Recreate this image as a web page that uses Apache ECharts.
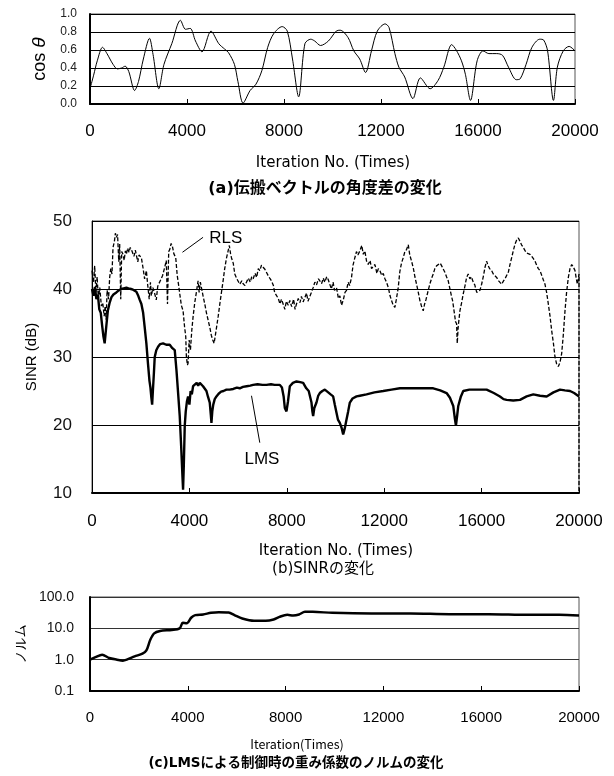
<!DOCTYPE html>
<html><head><meta charset="utf-8">
<script src="https://cdn.jsdelivr.net/npm/echarts@6/dist/echarts.min.js"></script>
<style>html,body{margin:0;padding:0;background:#fff}#c{width:614px;height:776px}</style>
</head><body><div id="c"></div>
<script>
// (a) cos theta
const cosIter = [0,150,300,517,700,952,1130,1300,1450,1600,1840,2000,2200,2453,2600,2840,3050,3373,3729,3939,4132,4350,4617,4988,5311,5553,5714,5956,6100,6312,6602,6844,7086,7328,7570,7925,8135,8350,8604,8862,9104,9266,9508,9831,10153,10315,10638,10880,11122,11364,11606,11848,12171,12332,12574,12736,12978,13317,13624,14027,14350,14592,14915,15100,15318,15480,15690,15964,16206,16449,16772,17014,17256,17579,17740,17982,18224,18547,18709,18870,19112,19273,19515,19758,20000];
const cosVal = [0.17,0.32,0.48,0.63,0.56,0.44,0.39,0.40,0.42,0.36,0.15,0.25,0.50,0.73,0.55,0.17,0.44,0.67,0.93,0.83,0.84,0.70,0.58,0.81,0.67,0.61,0.57,0.44,0.25,0.01,0.15,0.22,0.37,0.63,0.78,0.86,0.81,0.50,0.08,0.67,0.72,0.70,0.65,0.70,0.81,0.82,0.74,0.59,0.50,0.35,0.59,0.81,0.89,0.85,0.56,0.41,0.30,0.06,0.29,0.17,0.26,0.41,0.66,0.60,0.48,0.33,0.04,0.48,0.59,0.56,0.56,0.54,0.41,0.27,0.28,0.44,0.63,0.72,0.71,0.59,0.04,0.41,0.59,0.64,0.59];

// (b) SINR - RLS
const rlsIter = [0,60,110,160,210,260,320,384,440,500,540,580,620,680,726,770,820,863,920,960,1000,1050,1100,1137,1180,1220,1274,1320,1370,1411,1460,1520,1570,1617,1680,1722,1780,1822,1880,1930,2028,2100,2160,2233,2290,2350,2400,2439,2500,2576,2640,2700,2781,2840,2900,2987,3050,3100,3150,3192,3250,3302,3360,3439,3500,3560,3603,3670,3740,3800,3850,3877,3920,3946,3990,4042,4100,4151,4220,4290,4357,4400,4450,4494,4560,4631,4700,4770,4836,4900,4960,5014,5100,5179,5250,5320,5384,5450,5520,5590,5640,5690,5727,5800,5864,5950,6069,6150,6200,6280,6343,6420,6500,6560,6617,6700,6760,6830,6891,6960,7028,7100,7165,7230,7300,7371,7450,7500,7576,7650,7720,7780,7850,7920,7980,8060,8124,8200,8280,8340,8398,8470,8540,8600,8672,8740,8810,8870,8946,9000,9082,9150,9220,9300,9356,9430,9500,9560,9640,9700,9767,9830,9900,9960,10041,10120,10180,10247,10320,10390,10452,10520,10580,10658,10720,10795,10860,10920,11000,11080,11140,11206,11280,11343,11420,11480,11548,11620,11700,11760,11822,11900,11960,12030,12096,12170,12240,12302,12370,12439,12500,12576,12640,12710,12781,12850,12918,12990,13050,13124,13200,13260,13329,13400,13466,13530,13603,13660,13720,13808,13880,13950,14014,14080,14150,14220,14300,14360,14425,14500,14560,14630,14700,14760,14808,14880,14930,14973,15000,15040,15110,15180,15247,15320,15384,15450,15520,15580,15658,15720,15800,15864,15930,16001,16080,16140,16206,16260,16330,16412,16480,16550,16617,16700,16760,16823,16900,16960,17028,17100,17160,17234,17300,17371,17440,17508,17580,17640,17713,17790,17850,17920,17987,18060,18120,18192,18260,18330,18398,18470,18540,18603,18670,18740,18810,18877,18950,19014,19080,19151,19220,19288,19350,19425,19490,19562,19630,19699,19760,19836,19890,19932,19970,20000,20000];
const rlsVal = [42.7,41.0,43.4,39.5,41.8,38.6,40.2,37.5,38.0,36.0,37.5,35.5,39.8,38.5,41.7,43.0,42.2,46.1,47.0,48.2,47.6,48.0,44.0,46.6,38.5,45.5,45.1,44.2,45.6,45.1,46.0,45.4,46.1,45.8,45.9,44.8,45.7,45.6,44.0,45.0,44.6,43.0,41.5,42.7,40.5,38.5,41.0,39.0,40.2,39.3,38.4,40.4,40.2,41.5,42.0,43.2,44.2,37.8,45.5,45.8,46.7,46.3,45.2,44.6,42.0,40.5,39.3,37.6,36.8,34.5,33.0,30.0,28.8,29.1,32.5,31.0,34.0,35.9,38.0,39.6,41.2,39.5,41.0,40.2,39.0,37.8,36.5,35.4,34.4,33.2,32.5,32.0,34.0,35.9,37.8,39.6,41.2,43.0,44.5,45.6,46.4,45.2,44.6,43.8,42.2,41.5,40.7,41.2,40.8,40.5,41.0,41.6,41.0,41.8,41.5,42.3,41.7,43.0,42.7,43.5,43.2,42.9,42.7,42.0,41.6,41.2,40.5,39.5,39.3,38.6,37.8,38.5,37.8,37.0,38.2,37.6,38.3,37.4,38.5,37.0,37.8,38.6,38.0,38.9,38.1,38.0,39.4,38.2,38.3,39.4,40.2,41.0,40.6,41.5,41.2,40.8,41.6,41.0,41.8,41.4,41.2,40.0,41.0,39.8,40.2,38.6,39.0,37.6,38.4,39.5,39.8,41.0,40.5,41.7,43.5,44.6,45.5,45.0,45.6,46.4,45.1,45.6,44.0,43.6,44.2,43.0,43.2,43.6,42.3,43.0,42.7,42.0,42.3,41.5,41.0,40.2,39.0,38.3,37.6,37.3,38.5,40.2,42.5,43.8,44.6,45.5,45.8,46.5,45.0,44.1,43.0,41.8,40.7,39.5,38.3,37.5,36.8,37.8,38.5,39.8,40.8,41.6,42.2,43.0,43.4,43.6,43.8,43.4,43.2,42.4,41.8,41.2,40.0,39.0,38.3,36.5,35.2,34.9,32.0,34.5,36.8,38.0,39.3,40.5,41.7,42.2,41.5,41.8,41.0,40.6,39.5,39.3,39.8,40.7,42.0,43.2,44.1,43.5,43.0,42.7,42.2,42.0,41.7,41.2,41.0,40.7,41.2,41.5,41.7,42.5,43.5,44.6,45.6,46.6,47.2,47.5,47.0,46.5,46.1,45.6,45.3,45.4,45.1,44.8,44.5,44.1,43.5,43.0,42.7,42.0,41.3,40.7,39.5,37.8,36.0,33.9,32.0,30.0,29.0,28.6,29.2,30.5,33.0,36.8,39.5,41.7,43.0,43.6,43.3,42.7,41.5,40.7,41.5,42.2,10];

// (b) SINR - LMS
const lmsIter = [0,60,120,180,240,300,360,420,470,520,560,600,650,726,800,880,1000,1100,1200,1300,1411,1500,1600,1685,1760,1822,1900,1960,2028,2100,2160,2233,2300,2360,2400,2439,2470,2500,2540,2576,2640,2713,2800,2918,3050,3192,3300,3398,3470,3540,3603,3660,3713,3740,3770,3809,3850,3900,3946,4000,4050,4100,4151,4220,4300,4360,4425,4500,4560,4631,4700,4760,4836,4880,4905,4940,4980,5040,5110,5200,5300,5400,5521,5650,5800,5950,6069,6200,6350,6500,6617,6800,7000,7165,7350,7500,7713,7800,7870,7919,7987,8050,8124,8250,8398,8550,8672,8800,8900,9014,9050,9082,9130,9219,9290,9356,9460,9562,9700,9800,9904,9970,10041,10100,10178,10250,10315,10380,10452,10520,10589,10700,10863,11000,11274,11600,11959,12300,12644,13000,13329,13700,14014,14300,14562,14700,14836,14900,14946,15000,15042,15150,15247,15500,15795,16000,16206,16500,16754,16900,17028,17300,17576,17850,18124,18400,18672,18950,19220,19420,19631,19800,20000];
const lmsVal = [40.0,39.0,40.3,38.5,39.2,37.0,36.5,34.5,33.0,32.0,33.5,35.0,36.8,38.0,38.8,39.2,39.5,39.8,40.0,40.1,40.2,40.1,40.0,39.9,39.8,39.6,39.0,38.4,37.8,36.5,34.5,32.0,29.0,26.5,25.5,24.0,23.0,25.0,27.5,30.0,31.0,31.5,31.9,32.0,31.8,31.8,31.3,31.0,28.0,24.5,21.3,17.0,12.6,10.5,14.0,19.9,22.0,23.5,24.2,23.0,25.0,24.5,25.7,25.5,26.2,25.8,26.2,26.0,25.7,25.7,25.0,24.2,23.3,21.5,20.3,22.0,23.0,23.8,24.2,24.6,24.9,25.0,25.2,25.2,25.3,25.5,25.4,25.6,25.7,25.8,25.9,26.0,25.9,25.9,26.0,25.9,25.9,25.5,24.2,22.5,22.0,23.5,25.7,26.2,26.4,26.3,26.2,25.4,25.0,23.3,22.0,21.3,22.5,23.3,24.3,24.7,25.0,25.2,24.8,24.5,24.2,23.0,21.8,20.8,20.3,19.6,18.6,19.5,20.8,22.0,23.3,23.9,24.2,24.3,24.5,24.8,25.0,25.2,25.4,25.4,25.4,25.4,25.4,25.1,24.7,24.0,22.8,21.0,19.9,21.5,22.8,24.2,25.0,25.2,25.2,25.2,25.2,24.7,24.2,23.8,23.7,23.6,23.7,24.2,24.5,24.3,24.2,24.8,25.2,25.1,25.0,24.7,24.2];

// (c) norm
const normIter = [0,224,496,785,1105,1345,1505,1825,2146,2306,2466,2626,2866,3346,3667,3795,3955,4147,4307,4627,4948,5268,5668,5908,6228,6709,7189,7509,7750,8070,8310,8550,8790,9111,9911,11511,13112,14712,16313,17914,19194,20000];
const normVal = [1.0,1.2,1.44,1.13,1.0,0.93,1.0,1.27,1.55,1.97,4.3,6.9,8.2,8.9,10,15,14.4,22.2,26.4,27.7,31.2,32.8,32,26.4,20.6,17.4,17.4,19.2,23.3,27,25.7,27.7,33.6,33.6,31.2,29.8,29.8,28.4,28.4,27,27,25.7];

const xTicks = [0,4000,8000,12000,16000,20000];

const zip = (a,b)=>a.map((v,i)=>[v,b[i]]);
const FONT = '"Liberation Sans", Arial, sans-serif';
const JP = '"Noto Sans CJK JP", sans-serif';
const MIX = '"DejaVu Sans", "Noto Sans CJK JP", sans-serif';

function xAx(gi, fs, margin){
  return {gridIndex:gi,type:'value',min:xTicks[0],max:xTicks[xTicks.length-1],interval:xTicks[1]-xTicks[0],
    axisLine:{lineStyle:{color:'#000',width:2}},
    axisTick:{inside:true,length:5,lineStyle:{color:'#000'}},
    axisLabel:{fontSize:fs,color:'#000',fontFamily:FONT,margin:margin,formatter:v=>String(v)},
    splitLine:{show:false}};
}

const chart = echarts.init(document.getElementById('c'));
chart.setOption({
  animation:false,
  backgroundColor:'#fff',
  grid:[
    {left:90,right:39,top:14,height:90,show:true,borderColor:'#555',borderWidth:1},
    {left:92,right:35,top:221,height:272,show:true,borderColor:'#555',borderWidth:1},
    {left:90,right:35,top:597,height:94,show:true,borderColor:'#555',borderWidth:1}
  ],
  xAxis:[xAx(0,17,19), xAx(1,17,20), xAx(2,15,19)],
  yAxis:[
    {gridIndex:0,type:'value',min:0,max:1,interval:0.2,
      axisLine:{show:true,lineStyle:{color:'#000',width:2}},axisTick:{show:false},
      axisLabel:{fontSize:12,color:'#222',fontFamily:FONT,margin:13,formatter:v=>v.toFixed(1)},
      splitLine:{lineStyle:{color:'#000',width:1}}},
    {gridIndex:1,type:'value',min:10,max:50,interval:10,
      axisLine:{show:true,lineStyle:{color:'#000',width:1}},axisTick:{show:false},
      axisLabel:{fontSize:17,color:'#111',fontFamily:FONT,margin:20},
      splitLine:{lineStyle:{color:'#000',width:1}}},
    {gridIndex:2,type:'log',logBase:10,min:0.1,max:100,
      axisLine:{show:true,lineStyle:{color:'#000',width:2}},axisTick:{show:false},
      axisLabel:{fontSize:14,color:'#111',fontFamily:FONT,margin:16,formatter:v=>Number(v).toFixed(1)},
      splitLine:{lineStyle:{color:'#333',width:1}}}
  ],
  series:[
    {type:'line',xAxisIndex:0,yAxisIndex:0,data:zip(cosIter,cosVal),showSymbol:false,smooth:0.3,
      lineStyle:{color:'#000',width:1}},
    {type:'line',xAxisIndex:1,yAxisIndex:1,data:zip(rlsIter,rlsVal),showSymbol:false,
      lineStyle:{color:'#000',width:1.3,type:[4,2]},
      markLine:{silent:true,symbol:'none',label:{show:false},lineStyle:{color:'#000',width:1,type:'solid'},
        data:[[{coord:[3715,45.4]},{coord:[4561,47.6]}],[{coord:[6550,24.3]},{coord:[6891,17.4]}]]},
      markPoint:{silent:true,symbolSize:0,
        data:[{coord:[5494,47.5],label:{show:true,formatter:'RLS',position:'inside',fontSize:17,color:'#000',fontFamily:FONT}},
              {coord:[6980,14.9],label:{show:true,formatter:'LMS',position:'inside',fontSize:17,color:'#000',fontFamily:FONT}}]}},
    {type:'line',xAxisIndex:1,yAxisIndex:1,data:zip(lmsIter,lmsVal),showSymbol:false,
      lineStyle:{color:'#000',width:2.4}},
    {type:'line',xAxisIndex:2,yAxisIndex:2,data:zip(normIter,normVal),showSymbol:false,smooth:0.3,
      lineStyle:{color:'#000',width:2.5}}
  ],
  graphic:[
    {type:'text',x:40,y:59,rotation:Math.PI/2,style:{text:'{a|cos }{b|θ}',textAlign:'center',textVerticalAlign:'middle',
      rich:{a:{font:'18px '+FONT,fill:'#000'},b:{font:'italic 19px '+FONT,fill:'#000'}}}},
    {type:'text',x:32,y:357,rotation:Math.PI/2,style:{text:'SINR (dB)',font:'15px '+FONT,fill:'#000',textAlign:'center',textVerticalAlign:'middle'}},
    {type:'text',x:20,y:644,rotation:Math.PI/2,style:{text:'ノルム',font:'13px '+JP,fill:'#000',textAlign:'center',textVerticalAlign:'middle'}},
    {type:'text',x:333,y:163,style:{text:'Iteration No. (Times)',font:'15px '+MIX,fill:'#000',textAlign:'center',textVerticalAlign:'middle'}},
    {type:'text',x:325,y:189,style:{text:'(a)伝搬ベクトルの角度差の変化',font:'bold 16px '+MIX,fill:'#000',textAlign:'center',textVerticalAlign:'middle'}},
    {type:'text',x:336,y:551,style:{text:'Iteration No. (Times)',font:'15px '+MIX,fill:'#000',textAlign:'center',textVerticalAlign:'middle'}},
    {type:'text',x:323,y:569,style:{text:'(b)SINRの変化',font:'15px '+MIX,fill:'#000',textAlign:'center',textVerticalAlign:'middle'}},
    {type:'text',x:297,y:744,style:{text:'Iteration(Times)',font:'12.5px '+JP,fill:'#000',textAlign:'center',textVerticalAlign:'middle'}},
    {type:'text',x:296,y:763,style:{text:'(c)LMSによる制御時の重み係数のノルムの変化',font:'bold 13.5px '+MIX,fill:'#000',textAlign:'center',textVerticalAlign:'middle'}}
  ]
});
</script></body></html>
